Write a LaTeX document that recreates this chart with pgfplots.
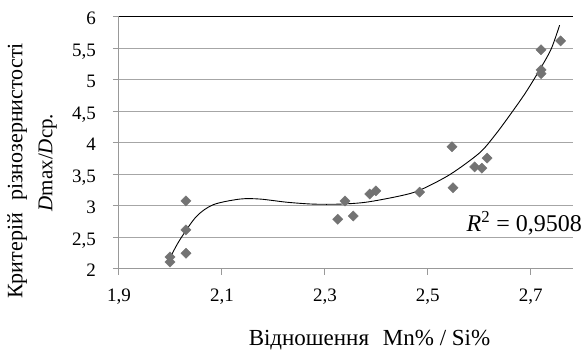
\documentclass[border=0pt]{standalone}
\usepackage{pgfplots}
\pgfplotsset{compat=1.18}
\usepackage{fontspec}
\setmainfont{Liberation Serif}
\newfontfamily\tnr{Liberation Serif}
\begin{document}
\tnr
\begin{tikzpicture}
\begin{axis}[
  name=main,
  scale only axis,
  width=454pt, height=252pt,
  xmin=1.9, xmax=2.782, ymin=2, ymax=6,
  xtick={1.9,2.1,2.3,2.5,2.7},
  ytick={2,2.5,3,3.5,4,4.5,5,5.5,6},
  axis x line*=bottom, axis y line*=left,
  axis line style={gray!80, line width=1pt, -},
  tick style={gray!80, line width=1pt},
  tick align=outside, major tick length=6pt,
  ymajorgrids, grid style={gray!70, line width=1pt},
  /pgf/number format/use comma,
  /pgf/number format/assume math mode=true,
  tick label style={font=\tnr\fontsize{19}{21}\selectfont, inner sep=0pt},
  xticklabel style={anchor=base, yshift=-27pt},
  yticklabel style={anchor=base east, xshift=-17pt, yshift=-8pt},
  clip=false,
]
\draw[black, line width=1pt] (axis cs:1.9,6) -- (axis cs:2.782,6);
\addplot[only marks, mark=square*, mark size=3.6pt, color=gray!90!black, mark options={rotate=45, fill=gray!90!black, draw=gray!90!black}] coordinates {
(1.999,2.19) (1.999,2.11) (2.030,3.08) (2.030,2.62) (2.030,2.25)
(2.325,2.79) (2.339,3.08) (2.355,2.84) (2.387,3.19) (2.399,3.24)
(2.484,3.22) (2.547,3.94) (2.549,3.29) (2.591,3.62) (2.605,3.60)
(2.615,3.76) (2.720,5.48) (2.720,5.16) (2.720,5.10) (2.758,5.62)
};
\addplot[black, line width=0.9pt, smooth] coordinates {
(2.000,2.19) (2.018,2.46) (2.050,2.83) (2.083,3.02) (2.135,3.11)
(2.174,3.11) (2.226,3.06) (2.277,3.03) (2.329,3.03) (2.380,3.06)
(2.446,3.16) (2.484,3.25) (2.543,3.50) (2.600,3.84) (2.630,4.12)
(2.660,4.45) (2.690,4.80) (2.720,5.20) (2.740,5.50) (2.756,5.87)
};
\end{axis}
\path (main.south west) ++(-119pt,269pt) coordinate (tl);
\path (main.south west) ++(465pt,-83pt) coordinate (br);
\path (tl) -- (br);
\node[rotate=90, anchor=mid, font=\tnr\fontsize{22}{24}\selectfont, inner sep=0pt] at ([shift={(-99pt,98pt)}]main.south west) {Критерій\hspace{0.55em}різнозернистості};
\node[rotate=90, anchor=mid, font=\tnr\fontsize{21}{23}\selectfont, inner sep=0pt] at ([shift={(-69pt,106.5pt)}]main.south west) {\textit{D}max/\textit{D}ср.};
\node[anchor=mid, font=\tnr\fontsize{23}{25}\selectfont, inner sep=0pt] at ([shift={(250.5pt,-74pt)}]main.south west) {Відношення\hspace{0.6em}Mn\% / Si\%};
\node[anchor=base east, font=\tnr\fontsize{24}{26}\selectfont, inner sep=0pt] at ([shift={(463pt,37pt)}]main.south west) {\textit{R}\textsuperscript{2} = 0,9508};
\end{tikzpicture}
\end{document}
